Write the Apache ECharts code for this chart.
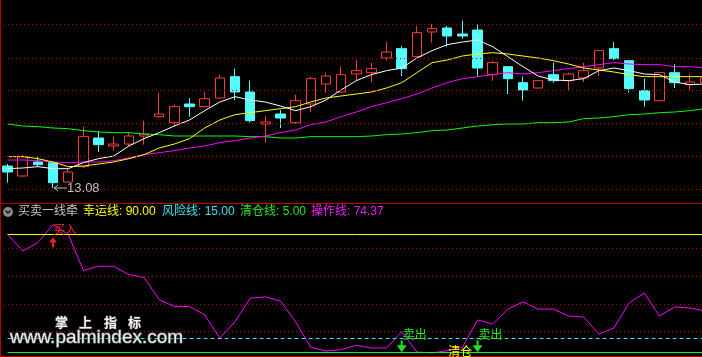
<!DOCTYPE html>
<html><head><meta charset="utf-8">
<script src="https://cdn.jsdelivr.net/npm/echarts@6/dist/echarts.min.js"></script>
<style>html,body{margin:0;padding:0;background:#000;overflow:hidden}#c{width:702px;height:357px}</style>
</head><body><div id="c"></div>
<script>
// ---- data ----
const categories = ['K01','K02','K03','K04','K05','K06','K07','K08','K09','K10','K11','K12','K13','K14','K15','K16','K17','K18','K19','K20','K21','K22','K23','K24','K25','K26','K27','K28','K29','K30','K31','K32','K33','K34','K35','K36','K37','K38','K39','K40','K41','K42','K43','K44','K45','K46','K47'];
const opens  = [13.41,13.26,13.47,13.46,13.17,13.40,13.83,13.71,13.74,13.86,14.15,14.06,14.34,14.30,14.43,14.75,14.52,14.04,14.19,14.06,14.34,14.64,14.52,14.79,14.81,15.03,15.17,15.05,15.42,15.48,15.39,15.45,14.78,14.90,14.66,14.58,14.78,14.69,14.73,14.88,15.17,14.99,14.54,14.39,14.81,14.63,14.66];
const closes = [13.32,13.55,13.43,13.16,13.32,13.85,13.73,13.74,13.86,13.89,14.19,14.30,14.30,14.42,14.73,14.52,14.09,14.07,14.13,14.39,14.72,14.76,14.78,14.84,14.87,15.12,14.87,15.41,15.47,15.36,15.36,14.88,14.96,14.72,14.55,14.69,14.69,14.79,14.84,15.14,15.02,14.57,14.40,14.81,14.66,14.67,14.73];
const lows   = [13.16,13.25,13.40,13.08,13.16,13.38,13.62,13.64,13.71,13.73,14.14,14.00,14.15,14.29,14.42,14.40,14.06,13.76,13.98,14.04,14.22,14.51,14.51,14.70,14.67,14.99,14.76,15.04,15.26,15.20,15.32,14.75,14.69,14.49,14.39,14.57,14.66,14.55,14.67,14.76,15.00,14.51,14.30,14.38,14.58,14.55,14.64];
const highs  = [13.44,13.58,13.55,13.47,13.37,14.00,13.94,13.85,13.92,14.09,14.51,14.33,14.43,14.52,14.78,14.87,14.69,14.16,14.25,14.48,14.75,14.81,14.90,15.00,14.96,15.27,15.21,15.51,15.54,15.51,15.59,15.53,14.99,14.91,14.75,14.70,14.96,14.81,14.96,15.15,15.27,15.00,14.72,14.82,14.94,14.79,14.75];
const ma5  = [13.37,13.38,13.40,13.37,13.37,13.46,13.52,13.56,13.71,13.82,13.91,14.01,14.10,14.24,14.37,14.45,14.40,14.37,14.31,14.24,14.30,14.40,14.55,14.69,14.78,14.84,14.88,15.03,15.14,15.23,15.27,15.30,15.20,15.05,14.90,14.76,14.70,14.69,14.72,14.84,14.88,14.84,14.79,14.78,14.67,14.63,14.64];
const ma10 = [13.55,13.55,13.52,13.47,13.40,13.41,13.44,13.47,13.52,13.58,13.68,13.74,13.82,13.98,14.10,14.18,14.21,14.24,14.27,14.30,14.37,14.43,14.46,14.49,14.52,14.58,14.66,14.81,14.96,15.00,15.06,15.09,15.11,15.09,15.06,15.03,14.99,14.94,14.88,14.85,14.82,14.78,14.75,14.75,14.75,14.75,14.75];
const ma20 = [13.50,13.50,13.49,13.47,13.46,13.47,13.47,13.49,13.53,13.58,13.61,13.64,13.68,13.71,13.76,13.79,13.83,13.86,13.91,13.95,14.03,14.07,14.15,14.22,14.30,14.36,14.42,14.49,14.58,14.66,14.72,14.75,14.78,14.81,14.79,14.81,14.84,14.87,14.90,14.93,14.96,14.94,14.93,14.93,14.90,14.90,14.88];
const ma60 = [14.04,14.01,14.00,13.98,13.97,13.94,13.92,13.91,13.91,13.89,13.88,13.86,13.86,13.86,13.86,13.86,13.85,13.85,13.83,13.83,13.85,13.85,13.85,13.85,13.86,13.88,13.89,13.91,13.94,13.95,13.98,14.01,14.03,14.04,14.04,14.06,14.06,14.07,14.12,14.13,14.15,14.18,14.19,14.21,14.22,14.24,14.27];
const operLine = [90,78,84,97,90,64,67,67,61,59,43,38,38,32,15.3,27,44,45,42,27,8.6,6,6.9,10.1,8.1,8.1,19.9,5.2,4.6,6.2,8.6,28.3,25.4,36.2,41.3,36.2,36.2,31.2,30.5,18.2,22.6,40.6,47.8,31.2,37.7,37,34.8];
const luckyLevel = 90, riskLevel = 15, clearLevel = 5;
const priceGridLevels = [13.065, 13.56, 14.05, 14.535, 15.03, 15.525];
const oscGridLevels = [20, 40, 60, 80];
const lowMark = {idx: 3, value: 13.08, text: '13.08'};
const buySignals = [3];
const sellSignals = [26, 31];
const clearSignals = [29];
const titleItems = [
  {text: '买卖一线牵', color: '#c4c4c4'},
  {text: '幸运线: 90.00', color: '#ffff00'},
  {text: '风险线: 15.00', color: '#40e4f0'},
  {text: '清仓线: 5.00', color: '#22e622'},
  {text: '操作线: 74.37', color: '#f020f0'}
];

// ---- chart ----
const chart = echarts.init(document.getElementById('c'), null, {renderer: 'canvas'});
const candleData = opens.map((o, i) => [o, closes[i], lows[i], highs[i]]);
const dotted = {type: [1, 3], color: '#b00000', width: 1};
const last = categories.length - 1;
function levelLine(v, style) {
  return [{coord: [categories[0], v], lineStyle: style}, {coord: [categories[last], v]}];
}
const FONT = "'Liberation Sans','Noto Sans CJK SC',sans-serif";

chart.setOption({
  backgroundColor: '#000',
  animation: false,
  grid: [
    {left: 0, top: 0, width: 712.5, height: 200, outerBoundsMode: 'none', containLabel: false},
    {left: 0, top: 220.5, width: 712.5, height: 138.8, outerBoundsMode: 'none', containLabel: false}
  ],
  xAxis: [
    {type: 'category', data: categories, gridIndex: 0, show: false},
    {type: 'category', data: categories, gridIndex: 1, show: false}
  ],
  yAxis: [
    {type: 'value', gridIndex: 0, min: 12.90, max: 15.90, show: false, splitLine: {show: false}},
    {type: 'value', gridIndex: 1, min: 0, max: 100, show: false, splitLine: {show: false}}
  ],
  series: [
    {type: 'line', data: [], xAxisIndex: 0, yAxisIndex: 0, z: 1, silent: true,
     markLine: {silent: true, symbol: ['none', 'none'], label: {show: false}, lineStyle: dotted,
       data: priceGridLevels.map(v => ({yAxis: v}))}},
    {type: 'line', data: [], xAxisIndex: 1, yAxisIndex: 1, z: 1, silent: true,
     markLine: {silent: true, symbol: ['none', 'none'], label: {show: false}, lineStyle: dotted,
       data: oscGridLevels.map(v => ({yAxis: v}))}},
    {type: 'candlestick', data: candleData, xAxisIndex: 0, yAxisIndex: 0, z: 2, barWidth: 10, silent: true,
     itemStyle: {color: '#000', color0: '#54fcfc', borderColor: '#ff3c3c', borderColor0: '#54fcfc', borderWidth: 1}},
    {type: 'line', data: ma60, symbol: 'none', z: 3, silent: true, lineStyle: {color: '#00ff00', width: 1}},
    {type: 'line', data: ma20, symbol: 'none', z: 3, silent: true, lineStyle: {color: '#ff00ff', width: 1}},
    {type: 'line', data: ma10, symbol: 'none', z: 3, silent: true, lineStyle: {color: '#ffff00', width: 1}},
    {type: 'line', data: ma5, symbol: 'none', z: 3, silent: true, lineStyle: {color: '#ffffff', width: 1}},
    {type: 'line', data: [], xAxisIndex: 1, yAxisIndex: 1, z: 2, silent: true,
     markLine: {silent: true, symbol: ['none', 'none'], label: {show: false},
       data: [
         levelLine(luckyLevel, {color: '#ffff00', width: 1, type: 'solid'}),
         levelLine(riskLevel, {color: '#30e8f0', width: 1, type: [4, 3]}),
         levelLine(clearLevel, {color: '#00ff00', width: 1, type: 'solid'})
       ]}},
    {type: 'line', data: operLine, xAxisIndex: 1, yAxisIndex: 1, symbol: 'none', z: 4, silent: true,
     lineStyle: {color: '#ff00ff', width: 1}}
  ]
});

// ---- overlays (positions from the chart's own scales) ----
const els = [];
els.push({type: 'line', z: 20, shape: {x1: 0.5, y1: 0, x2: 0.5, y2: 357}, style: {stroke: '#c00000', lineWidth: 1}});
els.push({type: 'line', z: 20, shape: {x1: 0, y1: 203.5, x2: 702, y2: 203.5}, style: {stroke: '#c00000', lineWidth: 1}});
els.push({type: 'line', z: 20, shape: {x1: 0, y1: 356.5, x2: 702, y2: 356.5}, style: {stroke: '#c00000', lineWidth: 1}});
els.push({type: 'circle', z: 20, shape: {cx: 8, cy: 212, r: 5}, style: {fill: '#8a8a8a'}});
els.push({type: 'polyline', z: 21, shape: {points: [[5.5, 210.5], [8, 213], [10.5, 210.5]]}, style: {stroke: '#1a1a1a', lineWidth: 1.5, fill: null}});
const titleX = [18, 83, 162, 240, 311];
titleItems.forEach((t, i) => {
  els.push({type: 'text', z: 20, x: titleX[i], y: 212,
    style: {text: t.text, fill: t.color, font: '12px ' + FONT, verticalAlign: 'middle', align: 'left'}});
});
const lp = chart.convertToPixel({gridIndex: 0}, [lowMark.idx, lowMark.value]);
els.push({type: 'polyline', z: 20, shape: {points: [[lp[0] + 5, lp[1] - 3], [lp[0] + 1, lp[1]], [lp[0] + 5, lp[1] + 3]]}, style: {stroke: '#c0c0c0', lineWidth: 1, fill: null}});
els.push({type: 'line', z: 20, shape: {x1: lp[0] + 1, y1: lp[1], x2: lp[0] + 14, y2: lp[1]}, style: {stroke: '#c0c0c0', lineWidth: 1}});
els.push({type: 'text', z: 20, x: lp[0] + 14, y: lp[1] + 0.5,
  style: {text: lowMark.text, fill: '#c0c0c0', font: '13px ' + FONT, verticalAlign: 'middle', align: 'left'}});
buySignals.forEach(idx => {
  const p = chart.convertToPixel({gridIndex: 1}, [idx, luckyLevel]);
  const x = p[0], y = p[1];
  els.push({type: 'polygon', z: 20, shape: {points: [[x, y + 3], [x - 4, y + 8], [x + 4, y + 8]]}, style: {fill: '#ff2020'}});
  els.push({type: 'rect', z: 20, shape: {x: x - 1, y: y + 8, width: 2, height: 5}, style: {fill: '#ff2020'}});
  els.push({type: 'text', z: 20, x: x, y: y - 4,
    style: {text: '买入', fill: '#ff2020', font: '12px ' + FONT, verticalAlign: 'middle', align: 'left'}});
});
sellSignals.forEach(idx => {
  const p = chart.convertToPixel({gridIndex: 1}, [idx, clearLevel]);
  const x = p[0], y = p[1];
  els.push({type: 'rect', z: 20, shape: {x: x - 1, y: y - 12, width: 2, height: 6}, style: {fill: '#22dd22'}});
  els.push({type: 'polygon', z: 20, shape: {points: [[x - 5, y - 7], [x + 5, y - 7], [x, y]]}, style: {fill: '#22dd22'}});
  els.push({type: 'text', z: 20, x: x + 1, y: y - 17,
    style: {text: '卖出', fill: '#22ee22', font: '12px ' + FONT, verticalAlign: 'middle', align: 'left'}});
});
clearSignals.forEach(idx => {
  const p = chart.convertToPixel({gridIndex: 1}, [idx, clearLevel]);
  els.push({type: 'text', z: 20, x: p[0] + 1, y: p[1],
    style: {text: '清仓', fill: '#ffff00', font: '12px ' + FONT, verticalAlign: 'middle', align: 'left'}});
});
['掌', '上', '指', '标'].forEach((ch, i) => {
  els.push({type: 'text', z: 30, x: [55, 79, 104, 128][i], y: 323,
    style: {text: ch, fill: '#f2f2f2', font: 'bold 13px ' + FONT, verticalAlign: 'middle', align: 'left',
      stroke: 'rgba(80,80,80,0.9)', lineWidth: 1, strokeFirst: true}});
});
els.push({type: 'text', z: 30, x: 10, y: 338,
  style: {text: 'www.palmindex.com', fill: '#eeeeee', font: '19px ' + FONT, verticalAlign: 'middle', align: 'left',
    stroke: 'rgba(80,80,80,0.9)', lineWidth: 1.5, strokeFirst: true}});

chart.setOption({graphic: {elements: els}});
</script>
</body></html>
